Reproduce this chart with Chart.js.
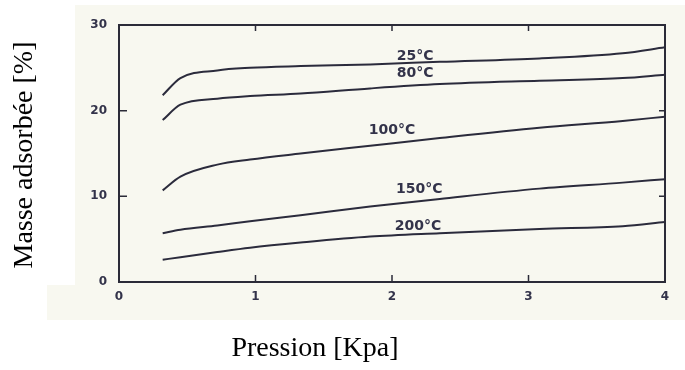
<!DOCTYPE html>
<meta charset="UTF-8">
<title>Masse adsorbée</title>
<script src="https://cdn.jsdelivr.net/npm/chart.js"></script>
<style>
  body { margin: 0; background: #fff; }
</style>
<script>
// pression (kPa), shared by all curves
var pression = [0.32, 0.45, 0.72, 0.96, 1.33, 1.84, 2.35, 3.08, 3.69, 4.0];

var t25  = [21.8, 23.8, 24.7, 25.0, 25.2, 25.4, 25.7, 26.1, 26.7, 27.4];
var t80  = [18.9, 20.7, 21.4, 21.7, 22.0, 22.6, 23.1, 23.5, 23.8, 24.2];
var t100 = [10.7, 12.3, 13.7, 14.3, 15.0, 15.9, 16.8, 18.0, 18.8, 19.3];
var t150 = [5.7, 6.1, 6.6, 7.1, 7.8, 8.8, 9.7, 10.9, 11.6, 12.0];
var t200 = [2.6, 2.9, 3.5, 4.0, 4.6, 5.3, 5.7, 6.2, 6.5, 7.0];

var curveLabels = ['25°C', '80°C', '100°C', '150°C', '200°C'];
var labelX = [2.17, 2.17, 2.0, 2.2, 2.19];
var labelY = [25.9, 23.9, 17.3, 10.4, 6.1];

var xTicks = [0, 1, 2, 3, 4];
var yTicks = [0, 10, 20, 30];

function pts(ys){
    var out = [];
    for(var i = 0; i < pression.length; i++){
        out.push({x: pression[i], y: ys[i]});
    }
    return out;
}

// scanned paper background, frame, inner ticks, curve labels, axis titles
var scanPlugin = {
    id: 'scan',
    beforeDraw: function(chart){
        var ctx = chart.ctx;
        ctx.save();
        ctx.fillStyle = '#f8f8f0';
        ctx.fillRect(75, 5, 610, 315);
        ctx.fillRect(47, 285, 28, 35);
        ctx.restore();
    },
    afterDatasetsDraw: function(chart){
        var ctx = chart.ctx, a = chart.chartArea;
        var xs = chart.scales.x, ys = chart.scales.y;
        ctx.save();
        ctx.strokeStyle = '#2b2b38';
        ctx.lineWidth = 2;
        ctx.strokeRect(a.left, a.top, a.right - a.left, a.bottom - a.top);
        ctx.lineWidth = 1.5;
        ctx.beginPath();
        for(var i = 1; i < xTicks.length - 1; i++){
            var px = xs.getPixelForValue(xTicks[i]);
            ctx.moveTo(px, a.bottom);
            ctx.lineTo(px, a.bottom - 7);
            ctx.moveTo(px, a.top);
            ctx.lineTo(px, a.top + 6);
        }
        for(var j = 1; j < yTicks.length - 1; j++){
            var py = ys.getPixelForValue(yTicks[j]);
            ctx.moveTo(a.left, py);
            ctx.lineTo(a.left + 8, py);
            ctx.moveTo(a.right, py);
            ctx.lineTo(a.right - 6, py);
        }
        ctx.stroke();

        ctx.fillStyle = '#33334a';
        ctx.font = 'bold 14px "DejaVu Sans"';
        ctx.textAlign = 'center';
        ctx.textBaseline = 'alphabetic';
        for(var k = 0; k < curveLabels.length; k++){
            ctx.fillText(curveLabels[k], xs.getPixelForValue(labelX[k]), ys.getPixelForValue(labelY[k]));
        }

        ctx.fillStyle = '#000';
        ctx.font = '28px "Liberation Serif"';
        ctx.textBaseline = 'middle';
        ctx.fillText('Pression [Kpa]', 315, 349);
        ctx.translate(25, 155);
        ctx.rotate(-Math.PI / 2);
        ctx.fillText('Masse adsorbée [%]', 0, 0);
        ctx.restore();
    }
};

function drawChart(){
    var ctx = document.getElementById('adsChart').getContext('2d');
    var lineStyle = {
        borderColor: '#2b2b3c',
        borderWidth: 2,
        pointRadius: 0,
        cubicInterpolationMode: 'monotone',
        fill: false
    };
    var sets = [t25, t80, t100, t150, t200].map(function(ys, i){
        return Object.assign({label: curveLabels[i], data: pts(ys)}, lineStyle);
    });

    new Chart(ctx, {
        type: 'line',
        data: { datasets: sets },
        options: {
            responsive: false,
            animation: false,
            layout: { padding: { top: 25, right: 20, left: 0, bottom: 0 } },
            plugins: { legend: { display: false }, tooltip: { enabled: false } },
            scales: {
                x: {
                    type: 'linear',
                    min: 0, max: 4,
                    afterFit: function(s){ s.height = 88; },
                    afterBuildTicks: function(s){ s.ticks = xTicks.map(function(v){ return {value: v}; }); },
                    grid: { display: false, drawTicks: false },
                    border: { display: false },
                    ticks: {
                        padding: 8,
                        color: '#33334a',
                        font: { family: 'DejaVu Sans', size: 12, weight: 'bold' }
                    }
                },
                y: {
                    min: 0, max: 30,
                    afterFit: function(s){ s.width = 119; },
                    afterBuildTicks: function(s){ s.ticks = yTicks.map(function(v){ return {value: v}; }); },
                    grid: { display: false, drawTicks: false },
                    border: { display: false },
                    ticks: {
                        padding: 12,
                        color: '#33334a',
                        font: { family: 'DejaVu Sans', size: 12, weight: 'bold' }
                    }
                }
            }
        },
        plugins: [scanPlugin]
    });
}
</script>
<html>
  <body>
    <canvas id="adsChart" width="685" height="370"></canvas>
    <script>drawChart();</script>
  </body>
</html>
